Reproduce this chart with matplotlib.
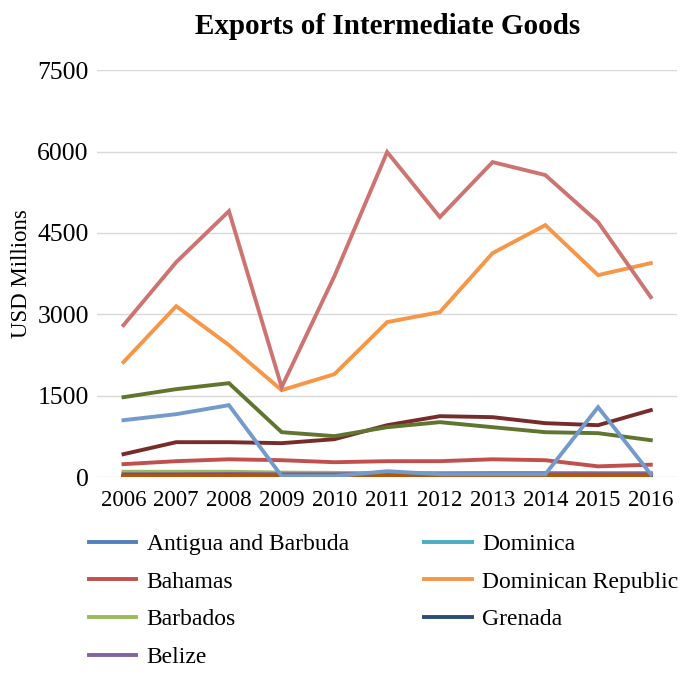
import matplotlib
matplotlib.use("Agg")
import matplotlib.pyplot as plt

plt.rcParams['font.family'] = ['Liberation Serif', 'DejaVu Serif']

# Years and series (USD millions)
years = [2006, 2007, 2008, 2009, 2010, 2011, 2012, 2013, 2014, 2015, 2016]

antigua = [12, 12, 12, 10, 10, 12, 12, 12, 12, 12, 12]
bahamas = [240, 295, 330, 313, 276, 295, 295, 330, 313, 200, 230]
barbados = [100, 100, 100, 85, 80, 75, 75, 75, 75, 70, 70]
belize = [55, 55, 60, 55, 55, 65, 65, 70, 70, 70, 70]
dominica = [5, 5, 5, 5, 5, 5, 5, 5, 5, 5, 5]
dominican_rep = [2120, 3151, 2433, 1603, 1898, 2857, 3041, 4128, 4644, 3723, 3944]
grenada = [8, 8, 8, 8, 8, 8, 8, 8, 8, 8, 8]
guyana = [424, 645, 645, 627, 700, 958, 1124, 1106, 995, 958, 1235]
haiti = [1474, 1622, 1732, 829, 756, 921, 1014, 921, 829, 811, 682]
jamaica = [30, 30, 30, 25, 25, 30, 30, 30, 30, 30, 30]
st_kitts = [3, 3, 3, 3, 3, 3, 3, 3, 3, 3, 3]
st_lucia = [20, 20, 22, 20, 20, 40, 40, 40, 40, 40, 40]
suriname = [1050, 1161, 1327, 20, 20, 110, 55, 55, 55, 1290, 55]
trinidad = [2801, 3962, 4902, 1659, 3704, 5990, 4792, 5805, 5566, 4700, 3317]

names = ["Antigua and Barbuda", "Bahamas", "Barbados", "Belize", "Dominica",
         "Dominican Republic", "Grenada", "Guyana", "Haiti", "Jamaica",
         "Saint Kitts and Nevis", "Saint Lucia", "Suriname", "Trinidad and Tobago"]
series = [antigua, bahamas, barbados, belize, dominica, dominican_rep, grenada,
          guyana, haiti, jamaica, st_kitts, st_lucia, suriname, trinidad]
colors = ["#4F81BD", "#C0504D", "#9BBB59", "#8064A2", "#4BACC6", "#F79646",
          "#2C4D75", "#772C2A", "#5F7530", "#4D3B62", "#276A7C", "#B65708",
          "#729ACA", "#CD7371"]

fig = plt.figure(figsize=(6.84, 6.74), dpi=100)
ax = fig.add_axes([0.142, 0.292, 0.848, 0.604])

x = list(range(len(years)))
lines = []
for name, vals, c in zip(names, series, colors):
    ln, = ax.plot(x, vals, color=c, lw=2.8, label=name, solid_joinstyle='miter')
    lines.append(ln)

ax.set_xlim(-0.5, len(years) - 0.5)
ax.set_ylim(0, 7500)
ax.set_yticks([0, 1500, 3000, 4500, 6000, 7500])
ax.set_xticks(x)
ax.set_xticklabels([str(y) for y in years])
ax.yaxis.grid(True, color='#D9D9D9', lw=1)
ax.set_axisbelow(True)
for s in ax.spines.values():
    s.set_visible(False)
ax.tick_params(axis='x', length=0, labelsize=16.5, pad=9)
ax.tick_params(axis='y', length=0, labelsize=18.5, pad=6)

ax.set_title("Exports of Intermediate Goods", fontsize=21, fontweight='bold', pad=26)
ax.set_ylabel("USD Millions", fontsize=16.5, labelpad=4)

# only the first seven countries fit in the legend box
fig.legend(lines[:7], names[:7], loc='upper left', bbox_to_anchor=(0.099, 0.24),
           ncol=2, frameon=False, fontsize=17, handlelength=2.0,
           handletextpad=0.45, columnspacing=3.2, labelspacing=0.68)

fig.savefig("out.png", dpi=100)
